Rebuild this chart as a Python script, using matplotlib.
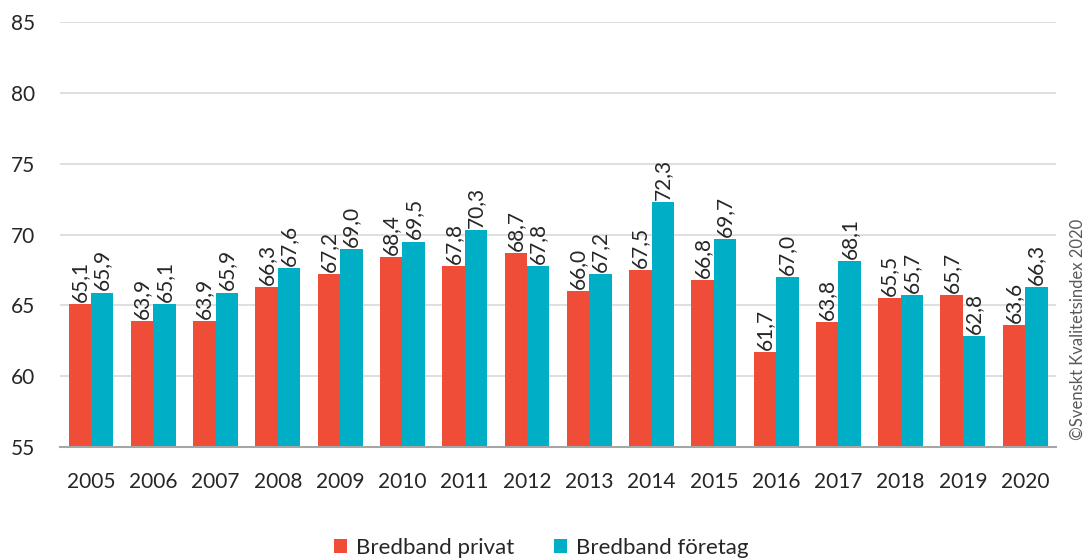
import matplotlib
matplotlib.use("Agg")
import matplotlib.pyplot as plt
import numpy as np

years = ["2005", "2006", "2007", "2008", "2009", "2010", "2011", "2012",
         "2013", "2014", "2015", "2016", "2017", "2018", "2019", "2020"]
privat = [65.1, 63.9, 63.9, 66.3, 67.2, 68.4, 67.8, 68.7, 66.0, 67.5, 66.8, 61.7, 63.8, 65.5, 65.7, 63.6]
foretag = [65.9, 65.1, 65.9, 67.6, 69.0, 69.5, 70.3, 67.8, 67.2, 72.3, 69.7, 67.0, 68.1, 65.7, 62.8, 66.3]
yticks = [55, 60, 65, 70, 75, 80, 85]

red = "#EF4D38"
teal = "#00AEC6"
txt = "#262626"

plt.rcParams['font.family'] = ['Lato', 'DejaVu Sans']

fig = plt.figure(figsize=(10.89, 5.59), dpi=100)
ax = fig.add_axes([0.055, 0.2004, 0.915, 0.7602])

x = np.arange(len(years))
w = 0.36
b1 = ax.bar(x - w/2, np.array(privat) - 55, w, bottom=55, color=red, label="Bredband privat", zorder=3)
b2 = ax.bar(x + w/2, np.array(foretag) - 55, w, bottom=55, color=teal, label="Bredband företag", zorder=3)

def fmt(v):
    return f"{v:.1f}".replace(".", ",")

for xi, v in zip(x - w/2, privat):
    ax.text(xi, v + 0.15, fmt(v), rotation=90, ha="center", va="bottom", fontsize=15, color=txt)
for xi, v in zip(x + w/2, foretag):
    ax.text(xi, v + 0.15, fmt(v), rotation=90, ha="center", va="bottom", fontsize=15, color=txt)

ax.set_ylim(55, 85)
ax.set_xlim(-0.5, len(years) - 0.5)
ax.set_yticks(yticks)
ax.set_yticklabels([str(t) for t in yticks], fontsize=15, color=txt)
ax.set_xticks(x)
ax.set_xticklabels(years, fontsize=15, color=txt)
ax.tick_params(axis="both", length=0)
ax.tick_params(axis="y", pad=18)
ax.tick_params(axis="x", pad=18)
ax.grid(axis="y", color="#D9D9D9", linewidth=1.2, zorder=0)
for s in ["top", "right", "left"]:
    ax.spines[s].set_visible(False)
ax.spines["bottom"].set_color("#A6A6A6")
ax.spines["bottom"].set_linewidth(1.5)
ax.spines["bottom"].set_zorder(4)

fig.legend(handles=[b1, b2], loc="center", bbox_to_anchor=(0.497, 0.02), ncol=2,
           frameon=False, fontsize=16, handlelength=0.6, handleheight=0.6,
           columnspacing=1.8, handletextpad=0.4, labelcolor=txt)

fig.text(0.99, 0.41, "©Svenskt Kvalitetsindex 2020", rotation=90, ha="center", va="center",
         fontsize=12, color="#595959")

fig.savefig("out.png", dpi=100)
